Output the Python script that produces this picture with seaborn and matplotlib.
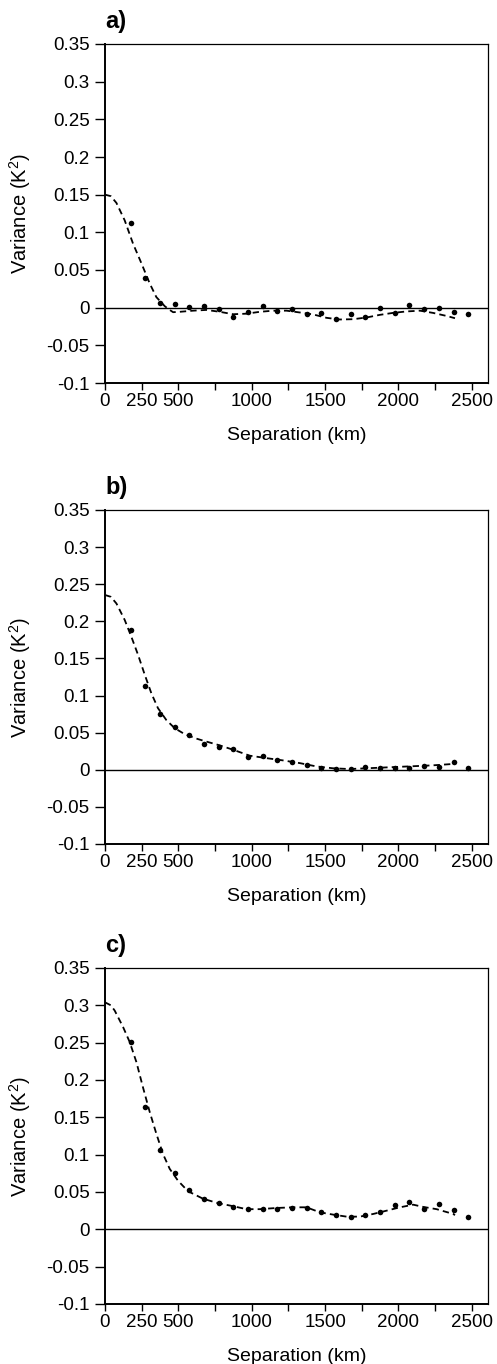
import numpy as np
import pandas as pd
import matplotlib
matplotlib.use("Agg")
import matplotlib.pyplot as plt
import seaborn as sns

# ---------------- data ----------------
dot_x = [175, 275, 375, 475, 575, 675, 775, 875, 975, 1075, 1175, 1275,
         1375, 1475, 1575, 1675, 1775, 1875, 1975, 2075, 2175, 2275, 2375, 2475]

dots_a = [0.113, 0.040, 0.006, 0.0047, 0.001, 0.002, -0.0024, -0.013, -0.006, 0.002,
          -0.004, -0.0024, -0.0078, -0.0069, -0.0153, -0.0086, -0.013, 0.0002,
          -0.0069, 0.0029, -0.002, -0.001, -0.0055, -0.009]
dots_b = [0.188, 0.113, 0.075, 0.057, 0.047, 0.035, 0.031, 0.028, 0.0175, 0.018,
          0.0126, 0.011, 0.0067, 0.003, 0.001, 0.0013, 0.0036, 0.003, 0.003, 0.002,
          0.0045, 0.0036, 0.0099, 0.003]
dots_c = [0.251, 0.164, 0.106, 0.075, 0.053, 0.041, 0.035, 0.0295, 0.027, 0.027,
          0.027, 0.029, 0.029, 0.023, 0.019, 0.017, 0.019, 0.023, 0.032, 0.036,
          0.027, 0.034, 0.026, 0.017]

fit_a_x = [0, 40, 78, 134, 191, 248, 305, 350, 407, 441, 464, 509, 600, 691, 782, 873,
           964, 1055, 1146, 1237, 1328, 1419, 1510, 1601, 1692, 1783, 1874, 1964,
           2055, 2146, 2237, 2328, 2385]
fit_a_y = [0.150, 0.148, 0.139, 0.116, 0.085, 0.059, 0.032, 0.014, 0.002, -0.003,
           -0.006, -0.0055, -0.004, -0.003, -0.0055, -0.0087, -0.008, -0.0055, -0.004,
           -0.004, -0.0064, -0.009, -0.0135, -0.0157, -0.0153, -0.013, -0.0095,
           -0.0069, -0.005, -0.004, -0.007, -0.011, -0.014]

fit_b_x = [0, 40, 78, 134, 180, 225, 271, 316, 361, 418, 475, 543, 623, 673, 780, 873,
           986, 1100, 1214, 1327, 1441, 1555, 1668, 1782, 1895, 2009, 2123, 2236, 2384]
fit_b_y = [0.2355, 0.233, 0.224, 0.202, 0.179, 0.155, 0.128, 0.103, 0.083, 0.067,
           0.056, 0.048, 0.042, 0.039, 0.033, 0.027, 0.019, 0.0157, 0.0126, 0.009,
           0.0045, 0.002, 0.001, 0.002, 0.003, 0.004, 0.005, 0.006, 0.008]

fit_c_x = [0, 40, 66, 123, 168, 214, 259, 305, 350, 395, 441, 498, 566, 668, 771, 873,
           964, 1055, 1168, 1282, 1373, 1464, 1555, 1646, 1737, 1828, 1919, 2010,
           2101, 2169, 2260, 2373, 2385]
fit_c_y = [0.304, 0.300, 0.293, 0.271, 0.251, 0.224, 0.190, 0.157, 0.128, 0.101,
           0.081, 0.065, 0.051, 0.041, 0.035, 0.031, 0.027, 0.027, 0.0286, 0.0295,
           0.0295, 0.0228, 0.0197, 0.017, 0.017, 0.0206, 0.025, 0.0295, 0.033, 0.030,
           0.027, 0.0206, 0.019]

panel_labels = ["a)", "b)", "c)"]
x_ticks = [0, 250, 500, 1000, 1500, 2000, 2500]
x_ticklabels = ["0", "250", "500", "1000", "1500", "2000", "2500"]
x_minor = [750, 1250, 1750, 2250]
y_ticks = [0.35, 0.3, 0.25, 0.2, 0.15, 0.1, 0.05, 0, -0.05, -0.1]
y_ticklabels = ["0.35", "0.3", "0.25", "0.2", "0.15", "0.1", "0.05", "0", "-0.05", "-0.1"]
x_label = "Separation (km)"
y_label = "Variance (K$^2$)"

# ---------------- style ----------------
sns.set_theme(style="ticks")
plt.rcParams["font.family"] = ["Liberation Sans", "DejaVu Sans"]
plt.rcParams["mathtext.fontset"] = "custom"
plt.rcParams["mathtext.rm"] = "Liberation Sans"
plt.rcParams["mathtext.default"] = "regular"
plt.rcParams["text.color"] = "black"
plt.rcParams["axes.labelcolor"] = "black"

fig = plt.figure(figsize=(4.97, 13.64), dpi=100)
W, H = 497, 1364
boxes = [(105, 44, 488, 383), (105, 510, 488, 844), (105, 968, 488, 1304)]

panels = [
    (dots_a, fit_a_x, fit_a_y),
    (dots_b, fit_b_x, fit_b_y),
    (dots_c, fit_c_x, fit_c_y),
]

for (l, t, r, b), (dots, fx, fy), lab in zip(boxes, panels, panel_labels):
    w_px, h_px = r - l, b - t
    ax = fig.add_axes([l / W, 1 - b / H, w_px / W, h_px / H])
    df_fit = pd.DataFrame({"x": fx, "y": fy})
    df_dot = pd.DataFrame({"x": dot_x, "y": dots})
    ax.axhline(0, color="black", lw=1.0, zorder=1)
    sns.lineplot(data=df_fit, x="x", y="y", ax=ax, color="black", lw=1.3,
                 linestyle=(0, (3.5, 2.3)), zorder=2)
    sns.scatterplot(data=df_dot, x="x", y="y", ax=ax, color="black", s=16,
                    edgecolor="black", linewidth=0, zorder=3)
    ax.set_xlim(0, 2610)
    ax.set_ylim(-0.1, 0.35)
    ax.set_xticks(x_ticks)
    ax.set_xticklabels(x_ticklabels)
    ax.set_xticks(x_minor, minor=True)
    ax.set_yticks(y_ticks)
    ax.set_yticklabels(y_ticklabels)
    ax.tick_params(axis="x", which="both", direction="out", length=5, width=1,
                   pad=2, labelsize=13.5, colors="black")
    ax.tick_params(axis="y", direction="out", length=7, width=1, pad=4,
                   labelsize=13.5, colors="black")
    ax.set_xlabel(x_label, fontsize=14, color="black")
    ax.set_ylabel(y_label, fontsize=14.5, color="black")
    ax.xaxis.set_label_coords(0.5, -44 / h_px)
    ax.yaxis.set_label_coords((33 - l) / w_px, 0.5)
    for side in ["left", "bottom"]:
        ax.spines[side].set_linewidth(1.4)
        ax.spines[side].set_color("black")
    for side in ["top", "right"]:
        ax.spines[side].set_linewidth(0.9)
        ax.spines[side].set_color("black")
        ax.spines[side].set_visible(True)
    ax.text(0.0, 1 + 16 / h_px, lab, transform=ax.transAxes, fontsize=17,
            fontweight="bold", ha="left", va="baseline", color="black")

fig.savefig("out.png", dpi=100, facecolor="white")
